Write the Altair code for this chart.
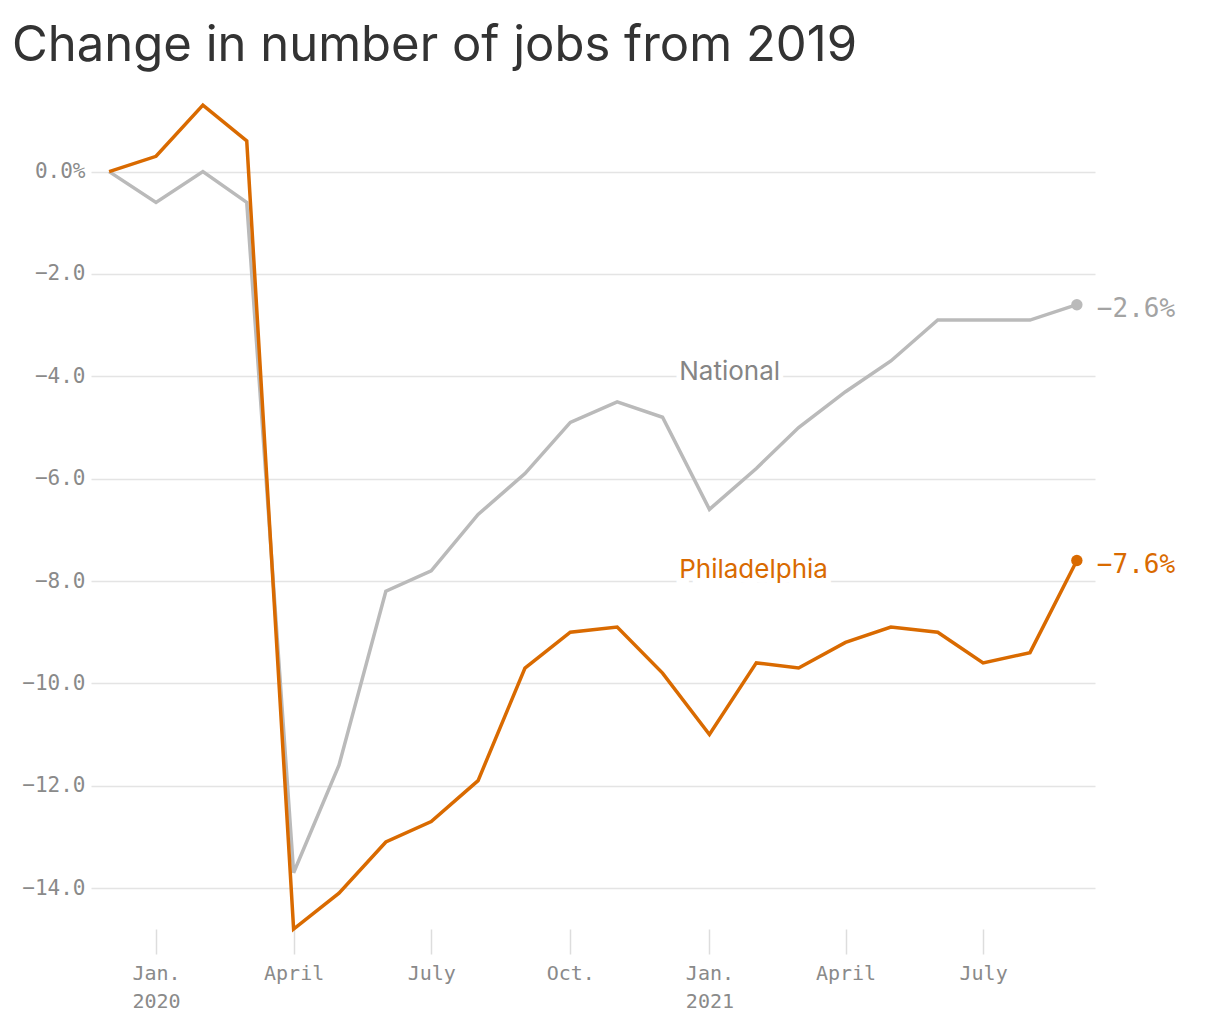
import altair as alt
import pandas as pd

# Monthly change in jobs vs. December 2019, percent
months = [
    "2019-12", "2020-01", "2020-02", "2020-03", "2020-04", "2020-05",
    "2020-06", "2020-07", "2020-08", "2020-09", "2020-10", "2020-11",
    "2020-12", "2021-01", "2021-02", "2021-03", "2021-04", "2021-05",
    "2021-06", "2021-07", "2021-08", "2021-09",
]
national = [
    0.0, -0.6, 0.0, -0.6, -13.7, -11.6, -8.2, -7.8, -6.7, -5.9, -4.9,
    -4.5, -4.8, -6.6, -5.8, -5.0, -4.3, -3.7, -2.9, -2.9, -2.9, -2.6,
]
philadelphia = [
    0.0, 0.3, 1.3, 0.6, -14.8, -14.1, -13.1, -12.7, -11.9, -9.7, -9.0,
    -8.9, -9.8, -11.0, -9.6, -9.7, -9.2, -8.9, -9.0, -9.6, -9.4, -7.6,
]
series_names = ["National", "Philadelphia"]
line_colors = ["#bababa", "#d96a00"]
name_colors = ["#858585", "#d96a00"]
end_colors = ["#a3a3a3", "#d96a00"]
# where the series names sit (date, value)
label_dates = ["2020-12-12T00:00:00", "2020-12-12T00:00:00"]
label_values = [-4.08, -7.94]

y_ticks = [0, -2, -4, -6, -8, -10, -12, -14]

MONO = "DejaVu Sans Mono"
SANS = "Inter"

rows = []
for name, vals in zip(series_names, [national, philadelphia]):
    for m, v in zip(months, vals):
        rows.append({"date": m + "-01T00:00:00", "value": v, "series": name})
df = pd.DataFrame(rows)
last = df.groupby("series").tail(1).copy()
labels = pd.DataFrame(
    {"date": label_dates, "value": label_values, "series": series_names}
)


def series_color(palette):
    return alt.Color(
        "series:N",
        scale=alt.Scale(domain=series_names, range=palette),
        legend=None,
    )


x_ticks = [
    alt.DateTime(year=y, month=m, date=1)
    for y, m in [(2020, 1), (2020, 4), (2020, 7), (2020, 10),
                 (2021, 1), (2021, 4), (2021, 7)]
]

x = alt.X(
    "date:T",
    title=None,
    scale=alt.Scale(
        domain=[
            alt.DateTime(year=2019, month=11, date=19),
            alt.DateTime(year=2021, month=9, date=13),
        ]
    ),
    axis=alt.Axis(
        values=x_ticks,
        labelExpr=(
            "month(datum.value) == 0 ? ['Jan.', timeFormat(datum.value, '%Y')]"
            " : month(datum.value) == 3 ? 'April'"
            " : month(datum.value) == 6 ? 'July' : 'Oct.'"
        ),
        domain=False,
        grid=False,
        tickSize=25,
        tickWidth=1.5,
        tickColor="#dddddd",
        labelPadding=9,
        labelFont=MONO,
        labelFontSize=20,
        labelColor="#8a8a8a",
        labelLineHeight=28,
        labelAlign="center",
    ),
)
y = alt.Y(
    "value:Q",
    title=None,
    scale=alt.Scale(domain=[-14.8, 1.4], nice=False, zero=False),
    axis=alt.Axis(
        values=y_ticks,
        labelExpr="datum.value == 0 ? '0.0%' : format(datum.value, '.1f')",
        domain=False,
        ticks=False,
        grid=True,
        gridColor="#e4e4e4",
        gridWidth=1.5,
        labelPadding=6,
        labelFont=MONO,
        labelFontSize=21,
        labelColor="#8a8a8a",
    ),
)

lines = alt.Chart(df).mark_line(strokeWidth=3.5).encode(
    x=x, y=y, color=series_color(line_colors), detail="series:N"
)

dots = alt.Chart(last).mark_point(filled=True, size=130, opacity=1).encode(
    x="date:T", y="value:Q", color=series_color(line_colors)
)

end_text = (
    alt.Chart(last)
    .transform_calculate(label="format(datum.value, '.1f') + '%'")
    .mark_text(align="left", baseline="middle", dx=20, dy=4, font=MONO, fontSize=26)
    .encode(x="date:T", y="value:Q", text="label:N", color=series_color(end_colors))
)

name_halo = alt.Chart(labels).mark_text(
    align="left", baseline="alphabetic", font=SANS, fontSize=26,
    stroke="white", strokeWidth=10, color="white",
).encode(x="date:T", y="value:Q", text="series:N")

name_text = alt.Chart(labels).mark_text(
    align="left", baseline="alphabetic", font=SANS, fontSize=26,
).encode(x="date:T", y="value:Q", text="series:N", color=series_color(name_colors))

chart = (
    alt.layer(lines, name_halo, name_text, dots, end_text)
    .resolve_scale(color="independent")
    .properties(
        width=1004,
        height=829,
        autosize=alt.AutoSizeParams(type="none"),
        padding={"left": 83, "top": 92, "right": 110, "bottom": 82},
        title=alt.TitleParams(
            "Change in number of jobs from 2019",
            anchor="start",
            frame="group",
            font=SANS,
            fontSize=49,
            fontWeight=400,
            color="#333333",
            baseline="alphabetic",
            dx=-79,
            dy=51,
            offset=39,
        ),
    )
    .configure_view(strokeWidth=0)
)

chart.save("out.html", embed_options={"renderer": "svg", "actions": False})
